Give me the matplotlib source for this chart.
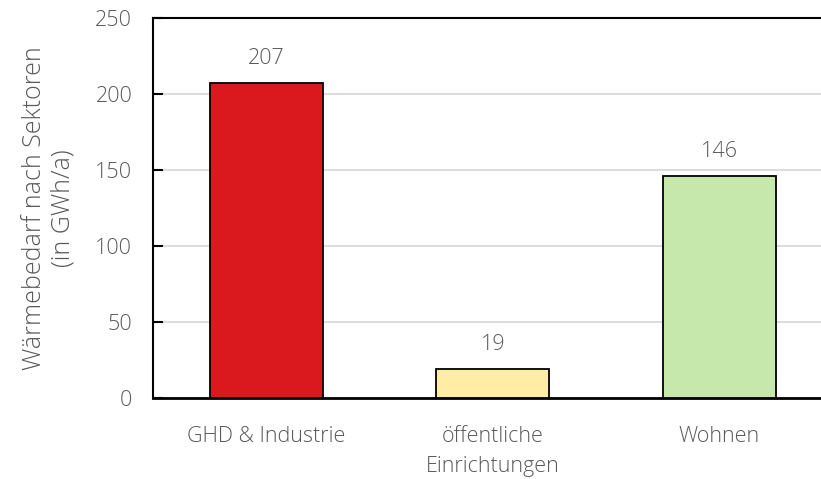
import matplotlib
matplotlib.use("Agg")
import matplotlib.pyplot as plt

categories = ["GHD & Industrie", "öffentliche\nEinrichtungen", "Wohnen"]
values = [207, 19, 146]
colors = ["#D9191D", "#FFEDA6", "#C7E8AC"]
yticks = [0, 50, 100, 150, 200, 250]

plt.rcParams['font.family'] = ['Open Sans', 'DejaVu Sans']
txt = "#595959"

fig = plt.figure(figsize=(8.21, 4.79), dpi=100)
ax = fig.add_axes([153/821, 1 - 398/479, (832.5 - 153)/821, 380/479])
x = list(range(len(categories)))
ax.bar(x, values, width=0.5, color=colors, edgecolor="black", linewidth=1.3, zorder=3)
for xi, v in zip(x, values):
    ax.annotate(str(v), (xi, v), xytext=(0, 10), textcoords="offset points",
                ha="center", va="bottom", fontsize=15.5, color=txt, fontweight="light")
ax.set_xlim(-0.5, 2.5)
ax.set_ylim(0, 250)
ax.set_yticks(yticks)
ax.set_yticklabels([str(t) for t in yticks], fontsize=15.5, color=txt, fontweight="light")
ax.set_xticks(x)
ax.set_xticklabels(categories, fontsize=15.5, color=txt, fontweight="light", linespacing=1.55)
ax.tick_params(axis="x", length=0, pad=20)
ax.tick_params(axis="y", direction="in", length=7, width=1.5, color="black", pad=15)
ax.yaxis.grid(True, color="#D9D9D9", linewidth=1.3, zorder=0)
ax.set_axisbelow(True)
for s in ["left", "top"]:
    ax.spines[s].set_linewidth(1.5)
ax.spines["bottom"].set_linewidth(2)
ax.spines["right"].set_visible(False)
ax.set_ylabel("Wärmebedarf nach Sektoren\n(in GWh/a)", fontsize=18, color=txt,
              fontweight="light", labelpad=14, linespacing=1.2)
fig.savefig("out.png", dpi=100)
